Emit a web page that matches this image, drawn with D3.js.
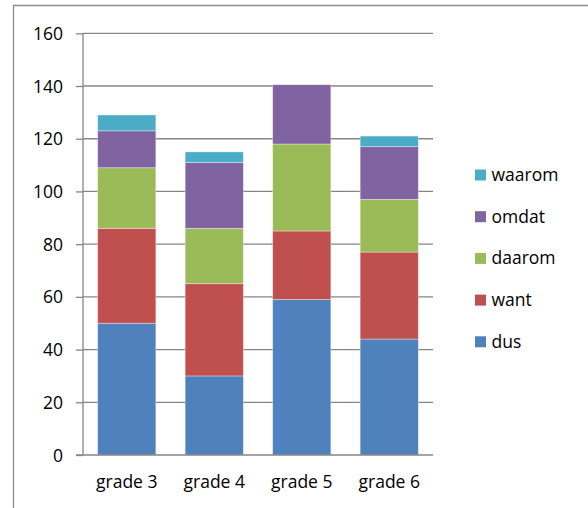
<!DOCTYPE html>
<html>
<head>
<meta charset="utf-8">
<script src="https://cdn.jsdelivr.net/npm/d3@7/dist/d3.min.js"></script>
<style>
  html, body { margin: 0; padding: 0; background: #fff; }
  svg text { font-family: "Open Sans", "Liberation Sans", Arial, sans-serif; fill: #000; }
</style>
</head>
<body>
<svg id="chart" width="588" height="508"></svg>
<script>
// Stacked counts per grade, one array per connective
const grades  = ["grade 3", "grade 4", "grade 5", "grade 6"];
const dus     = [50, 30, 59, 44];
const want    = [36, 35, 26, 33];
const daarom  = [23, 21, 33, 20];
const omdat   = [14, 25, 22.5, 20];
const waarom  = [6, 4, 0, 4];
const seriesNames  = ["dus", "want", "daarom", "omdat", "waarom"];
const seriesColors = ["#4F81BD", "#C0504D", "#9BBB59", "#8064A2", "#4BACC6"];
const yTicks = [0, 20, 40, 60, 80, 100, 120, 140, 160];

const seriesValues = { dus, want, daarom, omdat, waarom };
const rows = grades.map((g, i) => {
  const r = { grade: g };
  seriesNames.forEach(s => { r[s] = seriesValues[s][i]; });
  return r;
});

const svg = d3.select("#chart");
const fontSize = "17.5px";

// outer chart-area frame
svg.append("path")
  .attr("d", "M13.5,508 L13.5,5.5 L588,5.5")
  .attr("fill", "none")
  .attr("stroke", "#8c8c8c")
  .attr("stroke-width", 1.3);

const plot = { left: 83, right: 433, top: 33.3, bottom: 455 };

const x = d3.scaleBand()
  .domain(grades)
  .range([plot.left, plot.right])
  .paddingInner(0.335)
  .paddingOuter(0.1675);

const y = d3.scaleLinear()
  .domain([0, 160])
  .range([plot.bottom, plot.top]);

// tick labels with short outer ticks
const gAxis = svg.append("g")
  .attr("transform", `translate(${plot.left},0)`)
  .call(d3.axisLeft(y).tickValues(yTicks).tickSize(7).tickPadding(13));
gAxis.select(".domain").remove();
gAxis.selectAll(".tick line").attr("stroke", "#868686").attr("stroke-width", 1.3);
gAxis.selectAll(".tick text")
  .style("font-size", fontSize)
  .attr("dy", "0.35em");

// horizontal gridlines
svg.append("g").selectAll("line")
  .data(yTicks.filter(t => t > 0))
  .join("line")
  .attr("x1", plot.left).attr("x2", plot.right)
  .attr("y1", d => y(d)).attr("y2", d => y(d))
  .attr("stroke", "#868686").attr("stroke-width", 1.3);

// stacked bars
const stack = d3.stack().keys(seriesNames);
const layers = stack(rows);

svg.append("g").selectAll("g")
  .data(layers)
  .join("g")
  .attr("fill", (d, i) => seriesColors[i])
  .selectAll("rect")
  .data(d => d)
  .join("rect")
  .attr("x", d => x(d.data.grade))
  .attr("width", x.bandwidth())
  .attr("y", d => y(d[1]))
  .attr("height", d => Math.max(0, y(d[0]) - y(d[1])))
  .attr("stroke", "rgba(255,255,255,0.45)")
  .attr("stroke-width", 0.8);

// axis lines
svg.append("line")
  .attr("x1", plot.left).attr("x2", plot.left)
  .attr("y1", plot.top).attr("y2", plot.bottom)
  .attr("stroke", "#868686").attr("stroke-width", 1.3);
svg.append("line")
  .attr("x1", plot.left - 7).attr("x2", plot.right)
  .attr("y1", plot.bottom).attr("y2", plot.bottom)
  .attr("stroke", "#868686").attr("stroke-width", 1.3);

// category labels
const gx = svg.append("g")
  .attr("transform", `translate(0,${plot.bottom})`)
  .call(d3.axisBottom(x).tickSize(0).tickPadding(0));
gx.select(".domain").remove();
gx.selectAll(".tick text")
  .style("font-size", fontSize)
  .attr("y", 33)
  .attr("dy", 0);

// legend, top entry is the last series
const legendItems = seriesNames.slice().reverse();
const legend = svg.append("g").selectAll("g")
  .data(legendItems)
  .join("g")
  .attr("transform", (d, i) => `translate(475,${175 + i * 41.7})`);
legend.append("rect")
  .attr("x", 0).attr("y", -5.5)
  .attr("width", 11).attr("height", 11)
  .attr("fill", d => seriesColors[seriesNames.indexOf(d)]);
legend.append("text")
  .attr("x", 16.5).attr("y", 6)
  .style("font-size", fontSize)
  .text(d => d);
</script>
</body>
</html>
